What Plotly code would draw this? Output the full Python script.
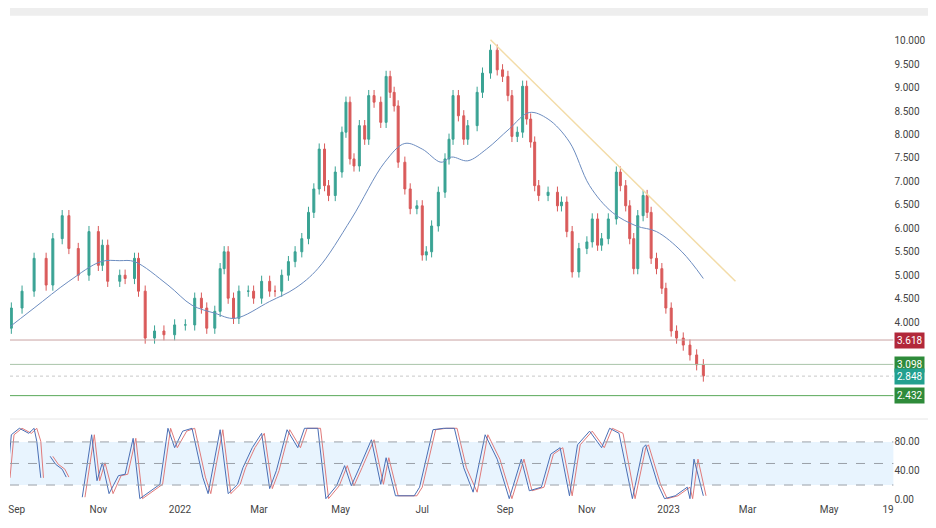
import pandas as pd
import plotly.graph_objects as go

# day offsets (from 2021-08-21) and closing prices
close_day = [0, 7, 15, 24, 32, 37, 44, 49, 56, 64, 71, 74, 78, 86, 90, 97, 100, 105, 112, 119,
             127, 134, 141, 146, 150, 156, 160, 163, 166, 170, 174, 181, 185, 190, 196, 200, 205,
             210, 215, 220, 225, 229, 233, 237, 240, 244, 249, 252, 255, 258, 262, 266, 269, 273,
             278, 282, 285, 288, 291, 295, 299, 304, 308, 311, 315, 320, 325, 328, 331, 335, 339,
             342, 348, 352, 358, 363, 367, 371, 374, 378, 382, 385, 388, 391, 394, 401, 407, 410,
             414, 418, 423, 429, 433, 437, 440, 445, 451, 454, 457, 460, 463, 466, 470, 473, 476,
             480, 484, 487, 491, 495, 500, 505, 509, 514]
close_px = [3.87, 4.30, 4.66, 5.36, 4.79, 5.78, 6.27, 5.57, 5.00, 5.93, 5.21, 5.64, 4.87, 5.00,
            4.93, 5.36, 4.66, 3.66, 3.81, 3.73, 3.94, 3.94, 4.51, 4.30, 3.87, 4.23, 5.14, 5.50,
            4.51, 4.08, 4.66, 4.66, 4.51, 4.87, 4.66, 4.66, 5.00, 5.29, 5.50, 5.78, 6.34, 6.84,
            7.69, 6.91, 6.70, 7.20, 8.05, 8.69, 7.48, 7.33, 8.19, 7.90, 8.83, 8.69, 8.26, 9.24,
            8.90, 8.61, 7.41, 6.84, 6.42, 6.48, 5.43, 5.50, 6.05, 6.77, 7.48, 7.90, 8.83, 8.40,
            7.90, 8.19, 8.90, 9.31, 9.80, 9.38, 9.24, 8.83, 7.96, 8.05, 9.03, 8.33, 7.84, 6.91,
            6.70, 6.77, 6.48, 6.56, 5.93, 5.07, 5.57, 5.71, 6.20, 5.64, 5.78, 6.20, 7.20, 6.91,
            6.48, 5.78, 5.14, 6.27, 6.70, 6.34, 5.36, 5.14, 4.72, 4.30, 3.81, 3.66, 3.51, 3.30,
            3.09, 2.85]
first_open = 3.78

ma_day = [0, 24, 49, 73, 86, 97, 122, 139, 156, 171, 196, 215, 232, 256, 281, 295, 308, 322,
          330, 342, 355, 372, 387, 401, 416, 431, 448, 465, 480, 499, 514]
ma_px = [3.77, 4.30, 4.87, 5.29, 5.31, 5.29, 4.79, 4.36, 4.19, 4.08, 4.44, 4.72, 5.14, 6.20,
         7.41, 7.81, 7.69, 7.41, 7.52, 7.44, 7.69, 8.12, 8.47, 8.33, 7.84, 6.91, 6.34, 6.05,
         5.93, 5.50, 4.93]

trend_day = [358, 538]
trend_px = [10.02, 4.87]

stoch_day = [4, 7, 13, 20, 24, 26, 28, None, 35, 39, 44, 47, None, 59, 66, 70, 74, 79, 85, 90,
             96, 101, 109, 116, 122, 127, 133, 139, 147, 151, 160, 166, 173, 177, 184, 190, 196,
             201, 209, 217, 222, 232, 238, 245, 251, 256, 262, 271, 278, 282, 289, 302, 306, 316,
             324, 332, 339, 346, 354, 363, 372, 381, 387, 396, 402, 409, 416, 422, 431, 440, 446,
             453, 462, 470, 472, 481, 486, 494, 503, 505, 508, 514]
stoch_k = [30, 90, 99, 92, 99, 81, 30, None, 60, 49, 42, 31, None, 3, 90, 26, 51, 8, 33, 35,
           85, 1, 12, 21, 99, 72, 95, 99, 31, 8, 97, 8, 21, 44, 72, 92, 15, 40, 97, 72, 99, 99,
           1, 19, 47, 19, 44, 83, 21, 58, 5, 5, 17, 97, 99, 99, 44, 10, 90, 56, 1, 56, 12, 17,
           63, 72, 5, 76, 95, 72, 99, 92, 1, 72, 76, 21, 1, 5, 17, 1, 56, 5]

levels = [3.618, 3.098, 2.848, 2.432]
level_labels = ["3.618", "3.098", "2.848", "2.432"]
level_colors = ["#b2283a", "#2e8b3a", "#22a08f", "#2e8b3a"]
line_colors = ["#c9a3a3", "#a9c4a9", "#c8c8c8", "#5aa85a"]

x_tick_dates = ["2021-09-01", "2021-11-01", "2022-01-01", "2022-03-01", "2022-05-01",
                "2022-07-01", "2022-09-01", "2022-11-01", "2023-01-01", "2023-03-01",
                "2023-05-01", "2023-06-14"]
x_tick_text = ["Sep", "Nov", "2022", "Mar", "May", "Jul", "Sep", "Nov", "2023", "Mar", "May", "19"]

start = pd.Timestamp("2021-08-21")
SCALE = 1.0187  # picture pixels -> calendar days


def to_date(d):
    return None if d is None else start + pd.Timedelta(days=round(d * SCALE))


dates = [to_date(d) for d in close_day]
opens = [first_open] + close_px[:-1]
highs = [max(o, c) + 0.12 for o, c in zip(opens, close_px)]
lows = [min(o, c) - 0.12 for o, c in zip(opens, close_px)]

fig = go.Figure()
fig.add_trace(go.Candlestick(
    x=dates, open=opens, high=highs, low=lows, close=close_px,
    increasing=dict(line=dict(color="#3aa394", width=1), fillcolor="#3aa394"),
    decreasing=dict(line=dict(color="#d95a5a", width=1), fillcolor="#d95a5a"),
    whiskerwidth=0, showlegend=False, xaxis="x", yaxis="y"))
fig.add_trace(go.Scatter(x=[to_date(d) for d in ma_day], y=ma_px, mode="lines",
                         line=dict(color="#6c8cbf", width=1, shape="spline"),
                         showlegend=False, xaxis="x", yaxis="y"))
fig.add_trace(go.Scatter(x=[to_date(d) for d in trend_day], y=trend_px, mode="lines",
                         line=dict(color="#f3dca8", width=1.5), showlegend=False,
                         xaxis="x", yaxis="y"))

# stochastic: %K blue, %D red lagging slightly
k_dates = [to_date(d) for d in stoch_day]
d_dates = [None if d is None else to_date(d + 2) for d in stoch_day]
fig.add_trace(go.Scatter(x=d_dates, y=stoch_k, mode="lines", connectgaps=False,
                         line=dict(color="#e07a7a", width=1), showlegend=False,
                         xaxis="x2", yaxis="y2"))
fig.add_trace(go.Scatter(x=k_dates, y=stoch_k, mode="lines", connectgaps=False,
                         line=dict(color="#4a6fb5", width=1), showlegend=False,
                         xaxis="x2", yaxis="y2"))

XR = 0.954
x_start, x_end = "2021-08-27", "2023-06-18"
for lv, lc, dash in zip(levels, line_colors, ["solid", "solid", "dot", "solid"]):
    fig.add_shape(type="line", xref="paper", yref="y", x0=0, x1=XR, y0=lv, y1=lv,
                  line=dict(color=lc, width=1, dash=dash))
for lv, txt, bc in zip(levels, level_labels, level_colors):
    fig.add_annotation(x=XR + 0.001, xref="paper", xanchor="left", y=lv, yref="y", text=txt,
                       showarrow=False, bgcolor=bc, font=dict(color="white", size=10,
                       family="Roboto"), borderpad=2)

fig.add_shape(type="rect", xref="paper", yref="y2", x0=0, x1=XR, y0=20, y1=80,
              fillcolor="rgba(33,150,243,0.10)", line=dict(width=0), layer="below")
for lv in [80, 50, 20]:
    fig.add_shape(type="line", xref="paper", yref="y2", x0=0, x1=XR, y0=lv, y1=lv,
                  line=dict(color="#9aa0a8", width=1, dash="dash"))
fig.add_shape(type="rect", xref="paper", yref="paper", x0=0, x1=1, y0=0.985, y1=1,
              fillcolor="#eeeeee", line=dict(width=0))
fig.add_shape(type="line", xref="paper", yref="paper", x0=0, x1=1, y0=0.205, y1=0.205,
              line=dict(color="#e6e6e6", width=1))

fig.update_layout(
    width=928, height=520, margin=dict(l=0, r=0, t=0, b=0),
    paper_bgcolor="white", plot_bgcolor="white",
    font=dict(family="Roboto", size=10, color="#444"),
    xaxis=dict(domain=[0, XR], range=[x_start, x_end], showticklabels=False,
               showgrid=False, rangeslider=dict(visible=False), anchor="y"),
    yaxis=dict(domain=[0.231, 0.977], range=[2.22, 10.445], side="right", anchor="x",
               tickvals=[4.0, 4.5, 5.0, 5.5, 6.0, 6.5, 7.0, 7.5, 8.0, 8.5, 9.0, 9.5, 10.0],
               tickformat=".3f", showgrid=False, zeroline=False, ticks=""),
    xaxis2=dict(domain=[0, XR], range=[x_start, x_end], anchor="y2",
                tickvals=x_tick_dates, ticktext=x_tick_text, showgrid=False, ticks="",
                ticklabeloverflow="allow"),
    yaxis2=dict(domain=[0.044, 0.194], range=[-4, 104], side="right", anchor="x2",
                tickvals=[0, 40, 80], ticktext=["0.00", "40.00", "80.00"],
                showgrid=False, zeroline=False),
)
fig.write_html("out.html")
